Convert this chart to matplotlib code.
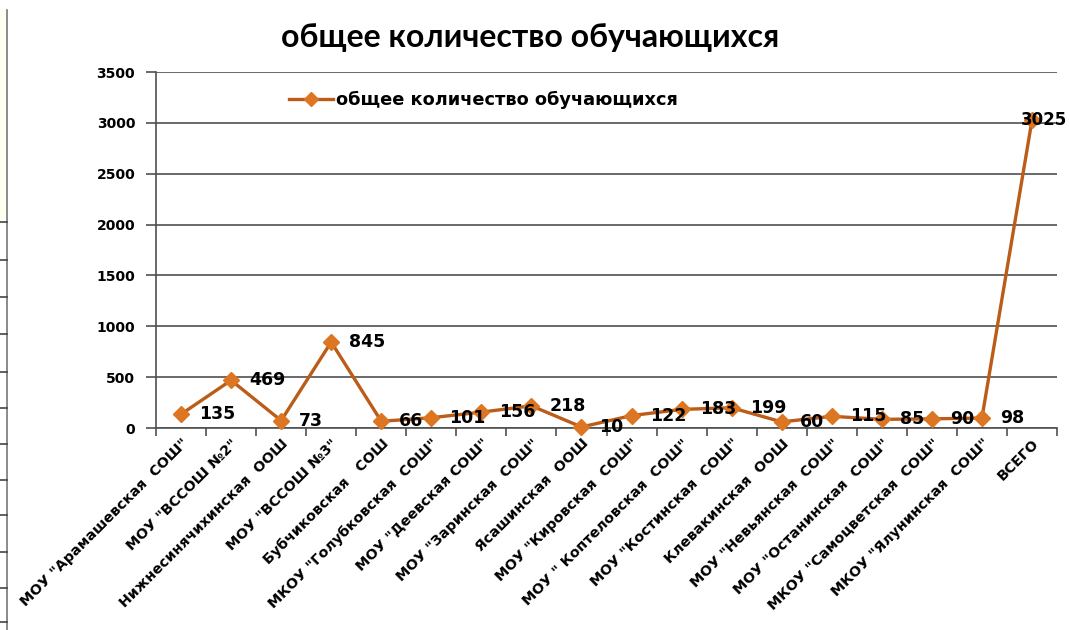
import matplotlib
matplotlib.use("Agg")
import matplotlib.pyplot as plt
from matplotlib.lines import Line2D
from matplotlib.patches import Rectangle

categories = [
    'МОУ "Арамашевская  СОШ"',
    'МОУ "ВССОШ №2"',
    'Нижнесинячихинская  ООШ',
    'МОУ "ВССОШ №3"',
    'Бубчиковская   СОШ',
    'МКОУ "Голубковская  СОШ"',
    'МОУ "Деевская СОШ"',
    'МОУ "Заринская  СОШ"',
    'Ясашинская  ООШ',
    'МОУ "Кировская  СОШ"',
    'МОУ " Коптеловская  СОШ"',
    'МОУ "Костинская  СОШ"',
    'Клевакинская  ООШ',
    'МОУ "Невьянская  СОШ"',
    'МОУ "Останинская  СОШ"',
    'МКОУ "Самоцветская  СОШ"',
    'МКОУ "Ялунинская  СОШ"',
    'ВСЕГО',
]
values = [135, 469, 73, 845, 66, 101, 156, 218, 10, 122, 183, 199, 60, 115, 85, 90, 98, 3025]
y_ticks = [0, 500, 1000, 1500, 2000, 2500, 3000, 3500]
series_name = "общее количество обучающихся"
title = "общее количество обучающихся"

W, H = 1070, 630
fig = plt.figure(figsize=(W / 100, H / 100), dpi=100)
fig.patch.set_facecolor("white")

# left-edge artifact from neighbouring sheet
fig.patches.append(Rectangle((0, 1 - 222 / H), 6 / W, 212 / H, transform=fig.transFigure,
                             facecolor="#fffff0", edgecolor="none", zorder=0))
fig.add_artist(Line2D([6.5 / W, 6.5 / W], [0, 1 - 10 / H], transform=fig.transFigure,
                      color="#777777", lw=1.2))
for yy in [222, 260, 297, 334, 372, 408, 444, 480, 515, 552, 588, 622]:
    fig.add_artist(Line2D([0, 6.5 / W], [1 - yy / H, 1 - yy / H], transform=fig.transFigure,
                          color="#444444", lw=1.2))

left, right, bottom, top = 156 / W, 1057 / W, 1 - 428 / H, 1 - 72 / H
ax = fig.add_axes([left, bottom, right - left, top - bottom])

x = list(range(len(categories)))
line_color = "#bb5c18"
marker_color = "#dc7622"
ax.plot(x, values, color=line_color, lw=2.4, marker="D", markersize=8,
        markerfacecolor=marker_color, markeredgecolor=marker_color, label=series_name,
        zorder=3, clip_on=False)

ax.set_xlim(-0.5, len(categories) - 0.5)
ax.set_ylim(0, 3500)
ax.set_yticks(y_ticks)
ax.set_yticklabels([str(v) for v in y_ticks], fontsize=10, fontweight="bold", family="DejaVu Sans")
ax.yaxis.grid(True, color="#505050", lw=1.2)
ax.set_axisbelow(True)

ax.set_xticks(x)
ax.set_xticklabels(categories, rotation=45, ha="right", rotation_mode="anchor",
                   fontsize=10.3, fontweight="bold", family="DejaVu Sans")
ax.tick_params(axis="x", which="major", length=0, pad=6)
ax.set_xticks([i - 0.5 for i in range(len(categories) + 1)], minor=True)
ax.tick_params(axis="x", which="minor", length=6, width=1.2, color="#505050")
ax.tick_params(axis="y", length=7, width=1.2, color="#505050", pad=8)

for s in ["top", "right"]:
    ax.spines[s].set_visible(False)
for s in ["left", "bottom"]:
    ax.spines[s].set_color("#505050")
    ax.spines[s].set_linewidth(1.2)

for i, v in enumerate(values):
    if i < len(values) - 1:
        ax.annotate(str(v), (i, v), xytext=(13, 0), textcoords="offset points",
                    ha="left", va="center", fontsize=12.5, fontweight="bold",
                    family="DejaVu Sans", color="black", zorder=4, annotation_clip=False)
    else:
        ax.annotate(str(v), (i, v), xytext=(25.5, 0), textcoords="offset points",
                    ha="right", va="center", fontsize=12, fontweight="bold",
                    family="DejaVu Sans", color="black", zorder=4, annotation_clip=False)

t = fig.text(530 / W, 1 - 38 / H, title, ha="center", va="center", fontsize=18,
             fontweight="bold", family="Lato")
renderer = fig.canvas.get_renderer()
tw = t.get_window_extent(renderer).width
t.set_fontsize(18 * 496 / tw)

fig.legend(handles=[Line2D([0], [0], color=line_color, lw=2.4, marker="D", markersize=7,
                           markerfacecolor=marker_color, markeredgecolor=marker_color)],
           labels=[series_name], loc="center left", bbox_to_anchor=(289 / W, 1 - 100 / H),
           frameon=False, handlelength=2.5, handletextpad=0.15, borderpad=0, borderaxespad=0,
           prop={"family": "DejaVu Sans", "weight": "bold", "size": 12.8})

fig.savefig("out.png", dpi=100)
